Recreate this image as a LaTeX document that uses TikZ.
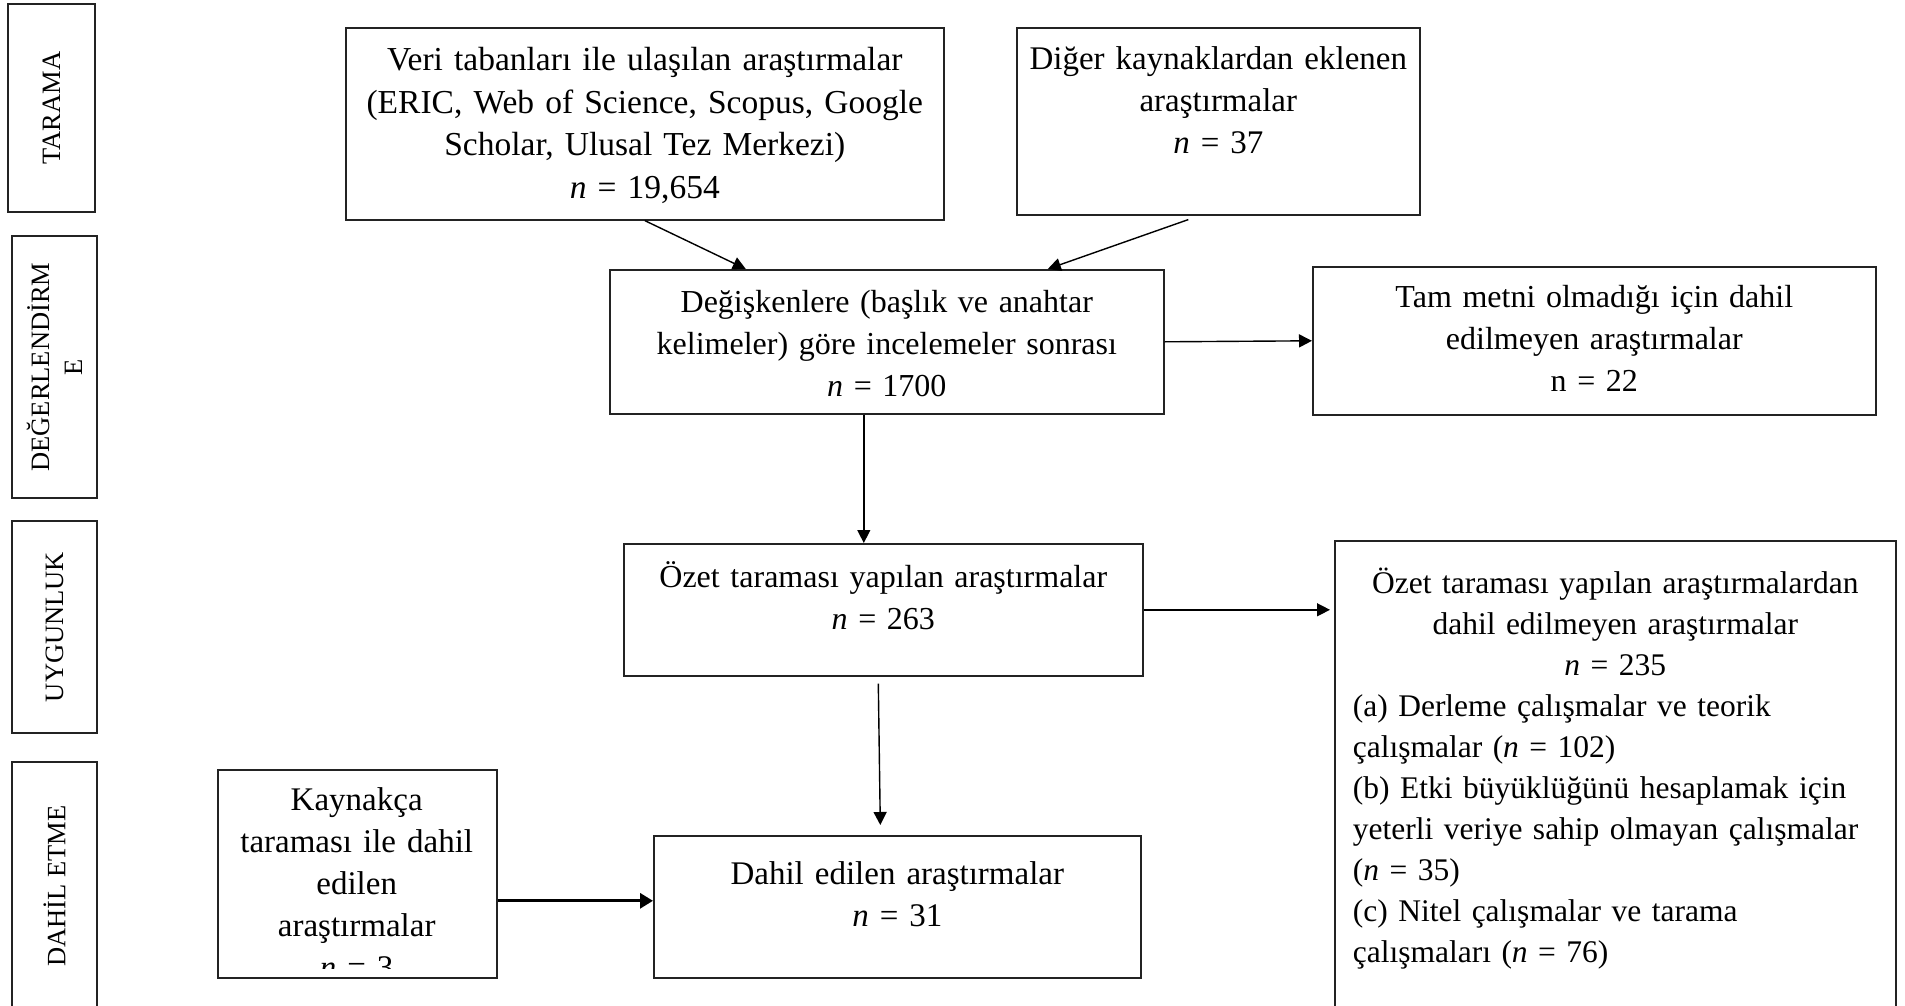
\documentclass[tikz,border=0pt]{standalone}
\usepackage{fontspec}
\setmainfont{Liberation Serif}
\usetikzlibrary{positioning,arrows.meta,calc}
\definecolor{frLine}{RGB}{35,35,35}
\tikzset{
    base/.style={font=\fontsize{33}{42}\selectfont, align=center, inner sep=0pt},
    box/.style={base, rectangle, draw=frLine, line width=1.6pt, anchor=north west},
    smallbox/.style={box, font=\fontsize{32}{42}\selectfont},
    stage/.style={rectangle, draw=frLine, line width=1.6pt, rotate=90, align=center,
                  font=\fontsize{26.5}{33}\selectfont, inner sep=0pt},
    flow/.style={-{Triangle[length=13pt,width=13pt]}, line width=1.4pt, color=black},
    thickflow/.style={flow, line width=3pt, -{Triangle[length=13pt,width=15pt]}}
}

\begin{document}
\begin{tikzpicture}[x=1pt, y=-1pt]
  \clip (0,0) rectangle (1905,1006);

  % Stage labels on the left
  \node[stage, minimum width=208pt, minimum height=87pt] (tarama) at (51.5,108) {TARAMA};
  \node[stage, minimum width=262pt, minimum height=85pt] (degerlendirme) at (54.5,367) {DEĞERLENDİRM\\E};
  \node[stage, minimum width=212pt, minimum height=85pt] (uygunluk) at (54.5,627) {UYGUNLUK};
  \node[stage, minimum width=248pt, minimum height=85pt] (dahiletme) at (54.5,886) {DAHİL ETME};

  % Identification
  \node[box, text width=598pt, text height=43pt, text depth=149pt,
        font=\fontsize{33.5}{42.5}\selectfont] (veri) at (345,27)
    {Veri tabanları ile ulaşılan araştırmalar\\(ERIC, Web of Science, Scopus, Google\\Scholar, Ulusal Tez Merkezi)\\\textit{n} = 19,654};
  \node[box, text width=403pt, text height=42pt, text depth=145pt] (diger) at (1016,27)
    {Diğer kaynaklardan eklenen\\araştırmalar\\\textit{n} = 37};

  % Screening
  \node[smallbox, text width=554pt, text height=43pt, text depth=101pt] (degisken) at (609,269)
    {Değişkenlere (başlık ve anahtar\\kelimeler) göre incelemeler sonrası\\\textit{n} = 1700};
  \node[smallbox, text width=563pt, text height=41pt, text depth=107pt] (tammetin) at (1312,266)
    {Tam metni olmadığı için dahil\\edilmeyen araştırmalar\\n = 22};

  % Eligibility
  \node[smallbox, text width=519pt, text height=44pt, text depth=88pt] (ozet) at (623,543)
    {Özet taraması yapılan araştırmalar\\\textit{n} = 263};
  \node[box, align=left, inner xsep=18pt, text width=525pt, text height=53pt, text depth=467pt,
        font=\fontsize{31.5}{41}\selectfont] (elenen) at (1334,540)
    {\makebox[525pt]{Özet taraması yapılan araştırmalardan}\\
     \makebox[525pt]{dahil edilmeyen araştırmalar}\\
     \makebox[525pt]{\textit{n} = 235}\\
     (a) Derleme çalışmalar ve teorik\\
     çalışmalar (\textit{n} = 102)\\
     (b) Etki büyüklüğünü hesaplamak için\\
     \mbox{yeterli veriye sahip olmayan çalışmalar}\\
     (\textit{n} = 35)\\
     (c) Nitel çalışmalar ve tarama\\
     çalışmaları (\textit{n} = 76)};

  % Included
  \node[box, minimum width=279pt, minimum height=208pt] (kaynakca) at (217,769) {};
  \begin{scope}
    \clip (kaynakca.north west) rectangle ([yshift=10pt]kaynakca.south east);
    \node[base, anchor=north west, text width=279pt, text height=41pt, text depth=0pt]
      (kaynakcaTxt) at (kaynakca.north west)
      {Kaynakça\\taraması ile dahil\\edilen\\araştırmalar\\\textit{n} = 3};
  \end{scope}
  \node[box, text width=487pt, text height=49pt, text depth=93pt] (dahil) at (653,835)
    {Dahil edilen araştırmalar\\\textit{n} = 31};

  % Connectors
  \draw[flow] (veri.south) -- ([xshift=-141pt]degisken.north);
  \draw[flow] ([xshift=-30pt,yshift=-4pt]diger.south) -- ([xshift=161pt]degisken.north);
  \draw[flow] (degisken.east) -- (tammetin.west);
  \draw[flow] ([xshift=-23pt]degisken.south) -- ([xshift=-23pt]degisken.south |- ozet.north);
  \draw[flow, shorten >=4pt] (ozet.east) -- (ozet.east -| elenen.west);
  \draw[flow] ([xshift=-5pt,yshift=-7pt]ozet.south) -- ([xshift=-17pt,yshift=10pt]dahil.north);
  \draw[thickflow] ([yshift=-27pt]kaynakca.east) -- ([yshift=-27pt]kaynakca.east -| dahil.west);
\end{tikzpicture}
\end{document}
